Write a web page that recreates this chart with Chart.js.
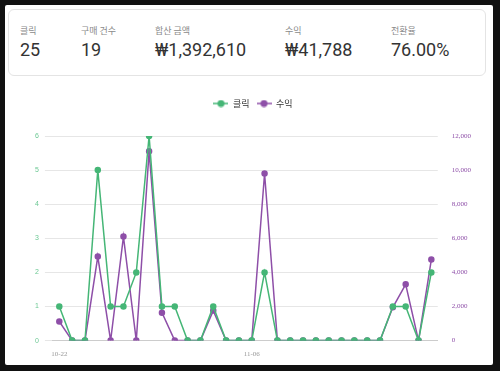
<!DOCTYPE html>
<html>
<head>
<meta charset="utf-8">
<script src="https://cdn.jsdelivr.net/npm/chart.js@4"></script>
<style>
  html, body { margin: 0; padding: 0; }
  body { width: 500px; height: 371px; background: #111; position: relative; overflow: hidden; font-family: Roboto, "Noto Sans CJK KR", sans-serif; }
  .page { position: absolute; left: 5px; top: 5px; width: 488px; height: 360px; background: #fff; border-radius: 2px; }
  .stats { position: absolute; left: 3px; top: 4px; width: 478px; height: 67px; border: 1px solid #e4e4e4; border-radius: 6px; box-sizing: border-box; }
  .stat { position: absolute; top: 14px; }
  .stat .lbl { font-size: 9px; color: #8a8a8a; font-family: "Noto Sans CJK KR", sans-serif; }
  .stat .val { font-size: 18px; color: #333; margin-top: 2px; }
  .chart-box { position: absolute; left: 5px; top: 83px; width: 478px; height: 272px; }
</style>
</head>
<body>
<div class="page">
  <div class="stats">
    <div class="stat" style="left:11px"><div class="lbl">클릭</div><div class="val">25</div></div>
    <div class="stat" style="left:72px"><div class="lbl">구매 건수</div><div class="val">19</div></div>
    <div class="stat" style="left:146px"><div class="lbl">합산 금액</div><div class="val">₩1,392,610</div></div>
    <div class="stat" style="left:276px"><div class="lbl">수익</div><div class="val">₩41,788</div></div>
    <div class="stat" style="left:382px"><div class="lbl">전환율</div><div class="val">76.00%</div></div>
  </div>
  <div class="chart-box"><canvas id="chart"></canvas></div>
</div>
<script>
// daily labels 10-22 .. 11-20
const labels = ['10-22','10-23','10-24','10-25','10-26','10-27','10-28','10-29','10-30','10-31',
  '11-01','11-02','11-03','11-04','11-05','11-06','11-07','11-08','11-09','11-10',
  '11-11','11-12','11-13','11-14','11-15','11-16','11-17','11-18','11-19','11-20'];
const clicks = [1,0,0,5,1,1,2,6,1,1, 0,0,1,0,0,0,2,0,0,0, 0,0,0,0,0,0,1,1,0,2];
const revenue = [1120,0,0,4930,0,6100,0,11100,1640,0, 0,0,1760,0,0,0,9800,0,0,0, 0,0,0,0,0,0,1950,3300,0,4750];
const shownTicks = ['10-22','11-06'];

const GREEN = '#45b676';
const PURPLE = '#8e4fa8';

// legend icon: short line with a dot in the middle
function legendIcon(color) {
  const c = document.createElement('canvas');
  c.width = 15; c.height = 8;
  const g = c.getContext('2d');
  g.strokeStyle = color; g.lineWidth = 1.5;
  g.beginPath(); g.moveTo(0, 4); g.lineTo(15, 4); g.stroke();
  g.fillStyle = color;
  g.beginPath(); g.arc(7.5, 4, 3.5, 0, Math.PI * 2); g.fill();
  return c;
}

// extra room under the legend
const legendMargin = {
  id: 'legendMargin',
  beforeInit(chart) {
    const fit = chart.legend.fit;
    chart.legend.fit = function () {
      fit.bind(chart.legend)();
      this.height += 18;
    };
  }
};

new Chart(document.getElementById('chart'), {
  type: 'line',
  data: {
    labels: labels,
    datasets: [
      {
        label: '클릭', data: clicks, yAxisID: 'y',
        borderColor: GREEN, backgroundColor: GREEN,
        borderWidth: 1.5, pointRadius: 2.5, tension: 0
      },
      {
        label: '수익', data: revenue, yAxisID: 'y1',
        borderColor: PURPLE, backgroundColor: PURPLE,
        borderWidth: 1.5, pointRadius: 2.5, tension: 0
      }
    ]
  },
  plugins: [legendMargin],
  options: {
    responsive: true,
    maintainAspectRatio: false,
    animation: false,
    layout: { padding: { left: 19, right: 11, top: 4, bottom: 1 } },
    plugins: {
      legend: {
        position: 'top',
        labels: {
          usePointStyle: true,
          pointStyleWidth: 15,
          generateLabels: chart => chart.data.datasets.map((ds, i) => ({
            text: ds.label, pointStyle: legendIcon(ds.borderColor),
            fillStyle: ds.borderColor, strokeStyle: ds.borderColor,
            fontColor: '#333', datasetIndex: i, hidden: false
          })),
          font: { size: 9, family: '"Noto Sans CJK KR", sans-serif' },
          padding: 7,
          boxWidth: 15
        }
      },
      tooltip: { enabled: false }
    },
    scales: {
      x: {
        offset: true,
        grid: { display: false },
        border: { color: '#ccc' },
        ticks: {
          autoSkip: false, maxRotation: 0, padding: 1,
          font: { size: 7, family: '"Liberation Serif", serif' }, color: '#999',
          callback: function (v) {
            const l = this.getLabelForValue(v);
            return shownTicks.includes(l) ? l : '';
          }
        }
      },
      y: {
        position: 'left', min: 0, max: 6,
        grid: { color: '#e6e6e6' },
        border: { display: false },
        ticks: { stepSize: 1, color: '#6cc894', font: { size: 7 }, padding: 6 }
      },
      y1: {
        position: 'right', min: 0, max: 12000,
        grid: { display: false },
        border: { display: false },
        ticks: {
          stepSize: 2000, color: PURPLE, padding: 6,
          font: { size: 7, family: '"Liberation Serif", serif' },
          callback: v => v.toLocaleString('en-US')
        }
      }
    }
  }
});
</script>
</body>
</html>
